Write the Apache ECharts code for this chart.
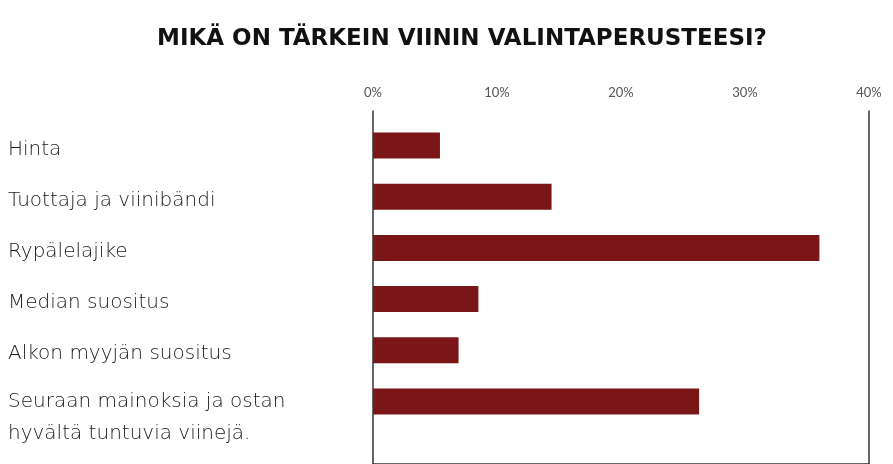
<!DOCTYPE html>
<html>
<head>
<meta charset="utf-8">
<script src="https://cdn.jsdelivr.net/npm/echarts@6/dist/echarts.min.js"></script>
<style>
  html, body { margin: 0; padding: 0; background: #fff; }
  #chart { width: 893px; height: 464px; }
</style>
</head>
<body>
<div id="chart"></div>
<script>
  var categories = [
    'Hinta',
    'Tuottaja ja viinibändi',
    'Rypälelajike',
    'Median suositus',
    'Alkon myyjän suositus',
    'Seuraan mainoksia ja ostan\nhyvältä tuntuvia viinejä.'
  ];
  var shares = [5.4, 14.4, 36, 8.5, 6.9, 26.3];
  var axisTicks = [0, 10, 20, 30, 40];

  var dom = document.getElementById('chart');
  var myChart = echarts.init(dom, null, { renderer: 'canvas' });

  var option = {
    backgroundColor: '#fff',
    animation: false,
    title: {
      text: 'MIKÄ ON TÄRKEIN VIININ VALINTAPERUSTEESI?',
      left: 152,
      top: 23,
      textStyle: {
        fontFamily: 'DejaVu Sans',
        fontWeight: 'bold',
        fontSize: 23,
        color: '#111'
      }
    },
    grid: [
      // bars
      { left: 373, right: 24, top: 120, bottom: 37 },
      // frame: top axis + side lines
      { left: 373, right: 24, top: 111, bottom: -5 }
    ],
    xAxis: [
      {
        gridIndex: 0, type: 'value',
        min: axisTicks[0], max: axisTicks[axisTicks.length - 1],
        show: false
      },
      {
        gridIndex: 1, type: 'value', position: 'top',
        min: axisTicks[0], max: axisTicks[axisTicks.length - 1], interval: 10,
        axisLine: { show: true, lineStyle: { color: '#333', width: 1.5 } },
        axisTick: { show: true, inside: true, length: 8, lineStyle: { color: '#333', width: 1.5 } },
        axisLabel: {
          formatter: '{value}%', margin: 12,
          fontFamily: 'Lato', fontSize: 13, color: '#555'
        },
        splitLine: { show: false }
      }
    ],
    yAxis: [
      {
        gridIndex: 0, type: 'category', data: categories, inverse: true,
        axisLine: { show: false },
        axisTick: { show: false },
        axisLabel: {
          interval: 0, showMinLabel: true, showMaxLabel: true, hideOverlap: false,
          align: 'left', margin: 365,
          fontFamily: 'DejaVu Sans', fontWeight: 300, fontSize: 20, color: '#1a1a1a',
          lineHeight: 32,
          rich: { s: { lineHeight: 24, fontSize: 4 } },
          // keep the first line of every label level with its bar
          formatter: function (v) {
            return '\n' + v + (v.indexOf('\n') < 0 ? '\n{s| }' : '');
          }
        }
      },
      {
        gridIndex: 1, type: 'value', position: 'left',
        axisLine: { show: true, lineStyle: { color: '#333', width: 1.5 } },
        axisTick: { show: false }, axisLabel: { show: false }, splitLine: { show: false }
      },
      {
        gridIndex: 1, type: 'value', position: 'right',
        axisLine: { show: true, lineStyle: { color: '#333', width: 1.5 } },
        axisTick: { show: false }, axisLabel: { show: false }, splitLine: { show: false }
      }
    ],
    series: [
      {
        type: 'bar',
        xAxisIndex: 0, yAxisIndex: 0,
        data: shares,
        barWidth: 26,
        itemStyle: { color: '#7a1518' }
      }
    ]
  };

  myChart.setOption(option);
  window.addEventListener('resize', myChart.resize);
</script>
</body>
</html>
